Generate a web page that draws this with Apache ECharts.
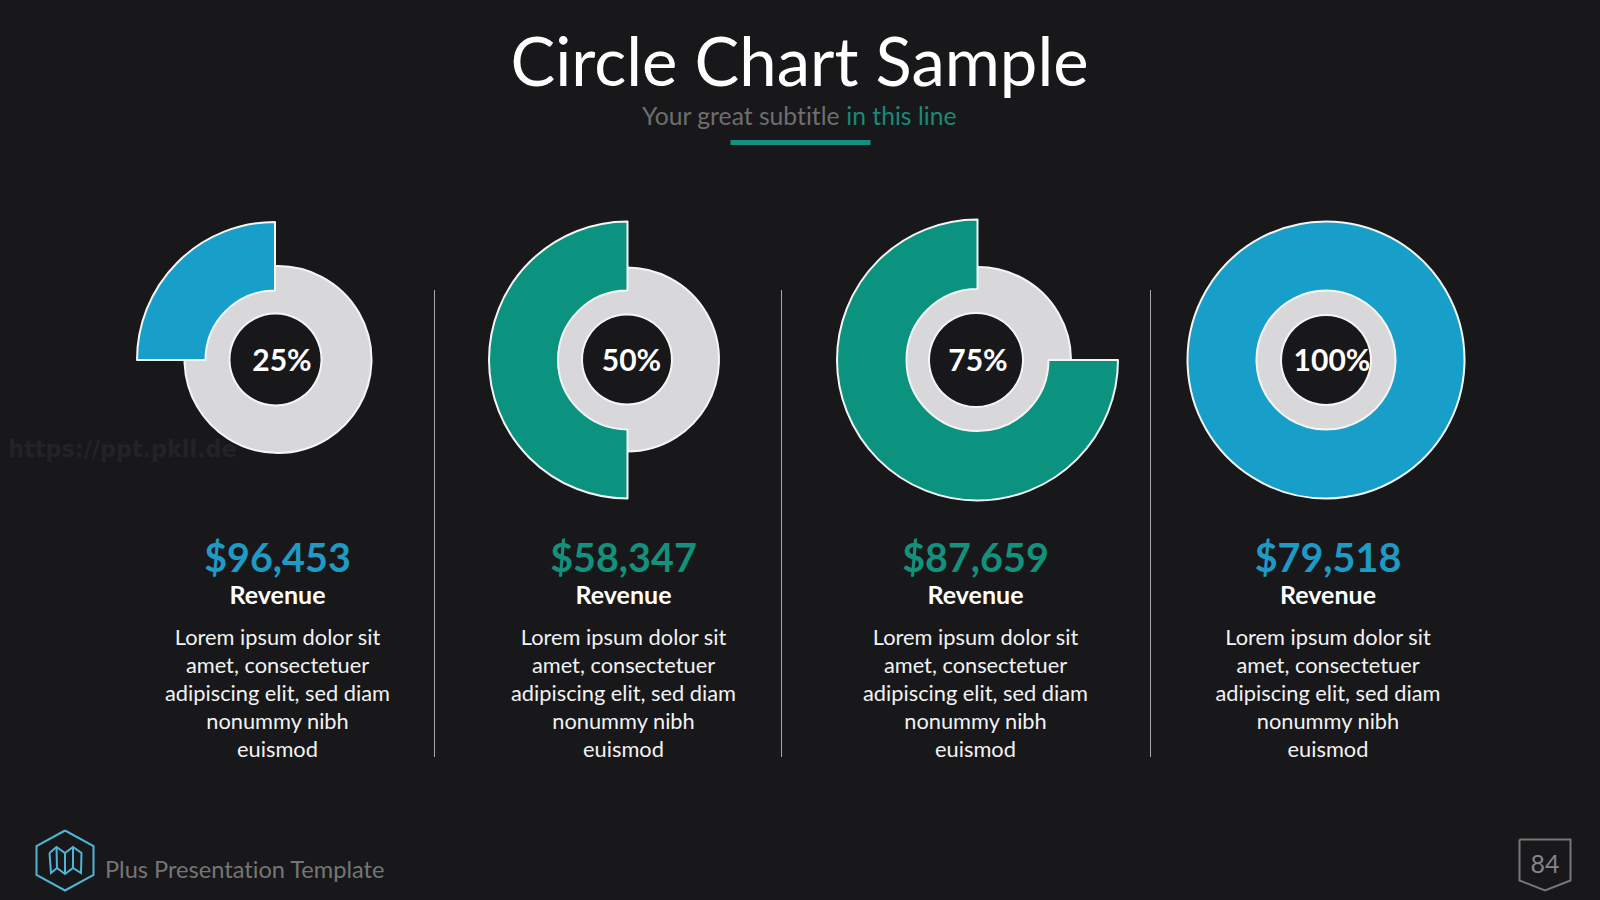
<!DOCTYPE html>
<html>
<head>
<meta charset="utf-8">
<style>
html,body{margin:0;padding:0;background:#18181a}
#chart{width:1600px;height:900px}
#chart text{font-variant-ligatures:none}
</style>
<script src="https://cdn.jsdelivr.net/npm/echarts@6/dist/echarts.min.js"></script>
</head>
<body>
<div id="chart"></div>
<script>
// Share of revenue shown by each ring, with its headline figure
const percentages = [25, 50, 75, 100];
const revenues = ['$96,453', '$58,347', '$87,659', '$79,518'];
const metricName = 'Revenue';
const bodyLines = ['Lorem ipsum dolor sit', 'amet, consectetuer', 'adipiscing elit, sed diam', 'nonummy nibh', 'euismod'];
const titleText = 'Circle Chart Sample';
const subtitleLead = 'Your great subtitle ';
const subtitleAccent = 'in this line';
const footerText = 'Plus Presentation Template';
const pageNumber = '84';
const watermark = 'https://ppt.pkll.de';

const PAGE = '#18181a', BLUE = '#189fc9', TEAL = '#0c937f', GREY = '#d8d8da', WHITE = '#f4f6f6';
const ringColors = [BLUE, TEAL, TEAL, BLUE];
const textColors = ['#1e9ac4', '#13917d', '#13917d', '#1e9ac4'];
const FONT = 'Lato, Carlito, "Noto Sans", sans-serif';

// Layout per column: ring, track and hole centres, label and text positions
const ringCenters = [[275, 360], [627.5, 360], [977.5, 360], [1326, 360]];
const ringOuter = [138, 138.5, 140.5, 138.5];
const ringInner = [69.5, 69.5, 71, 69.5];
const trackCenters = [[278, 359.5], [627, 359.5], [978, 360], [1326, 360]];
const trackOuter = [93.5, 92, 93, 70];
const holeCenters = [[275.5, 359.5], [627, 359.5], [976, 360], [1326, 360]];
const holeRadius = [46, 45, 47, 45];
const labelX = [282, 631.5, 978, 1332];
const columnX = [277.5, 623.5, 975.5, 1328];
const dividerX = [434.5, 781.5, 1150.5];

const series = [];
const plainPie = {
  type: 'pie', silent: true, animation: false,
  label: {show: false}, labelLine: {show: false}
};
percentages.forEach((p, i) => {
  // Light track underneath
  series.push(Object.assign({}, plainPie, {
    z: 2, center: trackCenters[i], radius: [0, trackOuter[i]],
    itemStyle: {color: GREY, borderColor: WHITE, borderWidth: 2},
    data: [{value: 100}]
  }));
  // Central opening in the page colour
  series.push(Object.assign({}, plainPie, {
    z: 3, center: holeCenters[i], radius: [0, holeRadius[i]],
    itemStyle: {color: PAGE, borderColor: WHITE, borderWidth: 2},
    data: [{value: 100}]
  }));
  // Coloured arc running anticlockwise from twelve o'clock
  const data = [{value: p, itemStyle: {color: ringColors[i], borderColor: WHITE, borderWidth: 2}}];
  if (p < 100) data.push({value: 100 - p, itemStyle: {color: 'transparent', borderWidth: 0}});
  series.push(Object.assign({}, plainPie, {
    z: 4, clockwise: false, startAngle: 90,
    center: ringCenters[i], radius: [ringInner[i], ringOuter[i]],
    data
  }));
});

const text = (x, y, str, size, fill, weight, extra) => ({
  type: 'text', x, y, silent: true, z: 10,
  style: Object.assign({
    text: str, fontFamily: FONT, fontSize: size, fontWeight: weight || 400,
    fill, align: 'center', verticalAlign: 'middle'
  }, extra || {})
});
const outline = (points, stroke, lineWidth) => ({
  type: 'polyline', silent: true, z: 10,
  shape: {points}, style: {stroke, lineWidth, fill: null}
});

const graphics = [
  text(799.5, 59.5, titleText, 67, '#ffffff', 400),
  {
    type: 'text', x: 799, y: 115.5, silent: true, z: 10,
    style: {
      rich: {
        a: {fontFamily: FONT, fontSize: 24.7, fill: '#6e6e6e'},
        b: {fontFamily: FONT, fontSize: 24.7, fill: '#178a78'}
      },
      text: '{a|' + subtitleLead + '}{b|' + subtitleAccent + '}',
      align: 'center', verticalAlign: 'middle'
    }
  },
  {type: 'rect', silent: true, shape: {x: 730.5, y: 140, width: 140, height: 5}, style: {fill: '#149080'}},
  text(122.5, 449, watermark, 22.3, '#232325', 700, {fontFamily: '"DejaVu Sans", sans-serif'}),
  text(105, 869, footerText, 23.6, '#757575', 400, {align: 'left'}),
  text(1545, 863, pageNumber, 25, '#858585', 400),
  // Hexagon badge with a folded map inside
  outline([[65, 830.5], [93.5, 846], [93.5, 875], [65, 890.5], [36.5, 875], [36.5, 846], [65, 830.5]], '#4fb4d6', 2),
  outline([[49.5, 853], [56.5, 847], [65, 853], [73, 847], [81.5, 853], [81, 873], [73, 868], [65, 874], [57, 868], [51, 873], [49.5, 853]], '#4fb4d6', 2),
  outline([[56.5, 847], [57, 868]], '#4fb4d6', 2),
  outline([[65, 853], [65, 874]], '#4fb4d6', 2),
  outline([[73, 847], [73, 868]], '#4fb4d6', 2),
  // Page number tag
  outline([[1519.5, 839.5], [1570.5, 839.5], [1570.5, 880.5], [1545, 890.5], [1519.5, 880.5], [1519.5, 839.5]], '#777777', 2)
];

dividerX.forEach(x => graphics.push({
  type: 'line', silent: true, z: 10,
  shape: {x1: x, y1: 290, x2: x, y2: 757},
  style: {stroke: '#a9a9a9', lineWidth: 1}
}));

percentages.forEach((p, i) => {
  graphics.push(text(labelX[i], 359, p + '%', 30, '#ffffff', 700));
  graphics.push(text(columnX[i], 556.5, revenues[i], 39.5, textColors[i], 700));
  graphics.push(text(columnX[i], 594, metricName, 25, '#ffffff', 700));
  graphics.push(text(columnX[i], 692, bodyLines.join('\n'), 21.8, '#f2f2f2', 400, {lineHeight: 28}));
});

const chart = echarts.init(document.getElementById('chart'), null, {renderer: 'svg', width: 1600, height: 900});
chart.setOption({
  backgroundColor: PAGE,
  animation: false,
  tooltip: {show: false},
  series,
  graphic: {elements: graphics}
});
</script>
</body>
</html>
